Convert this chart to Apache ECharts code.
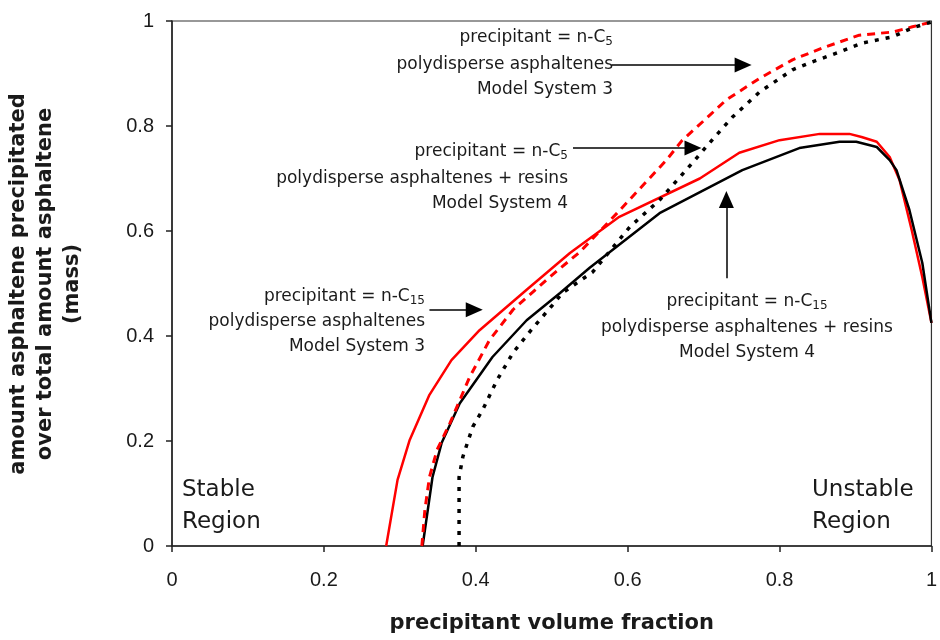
<!DOCTYPE html>
<html>
<head>
<meta charset="utf-8">
<script src="https://cdn.jsdelivr.net/npm/echarts@6/dist/echarts.min.js"></script>
<style>
  html, body { margin: 0; padding: 0; background: #fff; }
  #chart { width: 940px; height: 640px; }
</style>
</head>
<body>
<div id="chart"></div>
<script>
// Fraction of asphaltene precipitated vs precipitant volume fraction, [x, y] pairs

// n-C15, polydisperse asphaltenes (Model System 3)
const c15System3 = [
  [0.282, 0], [0.297, 0.126], [0.313, 0.202], [0.339, 0.288], [0.368, 0.354],
  [0.405, 0.411], [0.467, 0.488], [0.524, 0.558], [0.589, 0.627], [0.695, 0.700],
  [0.747, 0.749], [0.800, 0.773], [0.853, 0.785], [0.892, 0.785], [0.908, 0.779],
  [0.928, 0.770], [0.945, 0.741], [0.958, 0.697], [0.974, 0.602], [0.988, 0.512],
  [1.0, 0.425]
];

// n-C15, polydisperse asphaltenes + resins (Model System 4)
const c15System4 = [
  [0.330, 0], [0.343, 0.131], [0.355, 0.196], [0.379, 0.272], [0.422, 0.360],
  [0.467, 0.430], [0.511, 0.482], [0.550, 0.530], [0.642, 0.634], [0.751, 0.716],
  [0.826, 0.758], [0.879, 0.770], [0.901, 0.770], [0.928, 0.760], [0.945, 0.735],
  [0.954, 0.716], [0.971, 0.640], [0.988, 0.539], [1.0, 0.425]
];

// n-C5, polydisperse asphaltenes (Model System 3)
const c5System3 = [
  [0.329, 0], [0.333, 0.069], [0.339, 0.131], [0.349, 0.183], [0.366, 0.234],
  [0.392, 0.322], [0.418, 0.392], [0.449, 0.450], [0.497, 0.512], [0.537, 0.560],
  [0.586, 0.634], [0.651, 0.735], [0.672, 0.773], [0.704, 0.815], [0.730, 0.850],
  [0.774, 0.891], [0.817, 0.926], [0.857, 0.949], [0.905, 0.973], [0.949, 0.979],
  [0.975, 0.989], [1.0, 0.998]
];

// n-C5, polydisperse asphaltenes + resins (Model System 4)
const c5System4 = [
  [0.378, 0], [0.378, 0.131], [0.383, 0.170], [0.396, 0.227], [0.409, 0.259],
  [0.428, 0.316], [0.449, 0.368], [0.471, 0.408], [0.501, 0.459], [0.514, 0.482],
  [0.554, 0.522], [0.603, 0.608], [0.642, 0.659], [0.686, 0.731], [0.708, 0.768],
  [0.738, 0.817], [0.774, 0.865], [0.817, 0.907], [0.839, 0.920], [0.879, 0.941],
  [0.909, 0.958], [0.949, 0.970], [0.975, 0.987], [1.0, 0.998]
];

// Axis ticks
const xTickStep = 0.2;
const yTickStep = 0.2;

// Callout arrows: tail point, arrow-head centre (data coordinates)
const calloutArrows = [
  [[0.579, 0.916], [0.752, 0.916]],
  [[0.528, 0.758], [0.686, 0.758]],
  [[0.339, 0.450], [0.398, 0.450]],
  [[0.730, 0.510], [0.730, 0.660]]
];

const FONT = 'DejaVu Sans';
const TICK_FONT = 'Liberation Sans, Arial, sans-serif';
const INK = '#1a1a1a';

const chart = echarts.init(document.getElementById('chart'), null, { renderer: 'canvas' });

function noteLine(x, y, text, align) {
  return {
    type: 'text',
    x: x,
    y: y,
    silent: true,
    style: {
      text: text,
      align: align,
      verticalAlign: 'middle',
      fontSize: 17,
      fontFamily: FONT,
      fill: INK,
      lineHeight: 20,
      rich: {
        sub: {
          fontSize: 12,
          fontFamily: FONT,
          fill: INK,
          lineHeight: 12,
          verticalAlign: 'bottom'
        }
      }
    }
  };
}

function regionLabel(x, text) {
  return {
    type: 'text',
    x: x,
    y: 506,
    silent: true,
    style: {
      text: text,
      align: 'left',
      verticalAlign: 'middle',
      fontSize: 23,
      fontFamily: FONT,
      fill: INK,
      lineHeight: 32
    }
  };
}

const option = {
  animation: false,
  backgroundColor: '#ffffff',
  grid: {
    left: 172,
    right: 8,
    top: 21,
    bottom: 94,
    show: true,
    borderColor: '#333',
    borderWidth: 1.2,
    backgroundColor: 'transparent'
  },
  xAxis: {
    type: 'value',
    min: 0,
    max: 1,
    interval: xTickStep,
    name: 'precipitant volume fraction',
    nameLocation: 'middle',
    nameGap: 67,
    nameTextStyle: { fontSize: 21, fontWeight: 'bold', fontFamily: FONT, color: INK },
    axisLine: { show: true, onZero: false, lineStyle: { color: '#222', width: 1.5 } },
    axisTick: { show: true, inside: false, length: 6, lineStyle: { color: '#222', width: 1.5 } },
    axisLabel: { fontSize: 20, fontFamily: TICK_FONT, color: INK, margin: 24 },
    splitLine: { show: false }
  },
  yAxis: {
    type: 'value',
    min: 0,
    max: 1,
    interval: yTickStep,
    axisLine: { show: true, onZero: false, lineStyle: { color: '#222', width: 1.5 } },
    axisTick: { show: true, inside: false, length: 6, lineStyle: { color: '#222', width: 1.5 } },
    axisLabel: { fontSize: 20, fontFamily: TICK_FONT, color: INK, margin: 18 },
    splitLine: { show: false }
  },
  series: [
    {
      name: 'n-C15 MS3',
      type: 'line',
      data: c15System3,
      showSymbol: false,
      silent: true,
      lineStyle: { color: '#ff0000', width: 2.5 },
      z: 3,
      markLine: {
        silent: true,
        symbol: ['none', 'triangle'],
        symbolSize: [15, 17],
        label: { show: false },
        lineStyle: { color: '#000', width: 1.5, type: 'solid' },
        data: calloutArrows.map(a => [{ coord: a[0] }, { coord: a[1] }])
      }
    },
    {
      name: 'n-C15 MS4',
      type: 'line',
      data: c15System4,
      showSymbol: false,
      silent: true,
      lineStyle: { color: '#000000', width: 2.5 },
      z: 3
    },
    {
      name: 'n-C5 MS3',
      type: 'line',
      data: c5System3,
      showSymbol: false,
      silent: true,
      lineStyle: { color: '#ff0000', width: 3, type: [8, 6] },
      z: 4
    },
    {
      name: 'n-C5 MS4',
      type: 'line',
      data: c5System4,
      showSymbol: false,
      silent: true,
      lineStyle: { color: '#000000', width: 3.5, type: [4, 7] },
      z: 4
    }
  ],
  graphic: [
    // y-axis title
    {
      type: 'text',
      x: 46,
      y: 284,
      rotation: Math.PI / 2,
      silent: true,
      style: {
        text: 'amount asphaltene precipitated\nover total amount asphaltene\n(mass)',
        align: 'center',
        verticalAlign: 'middle',
        fontSize: 21,
        fontWeight: 'bold',
        fontFamily: FONT,
        fill: INK,
        lineHeight: 27
      }
    },
    // n-C5, Model System 3
    noteLine(613, 38, 'precipitant = n-C{sub|5}', 'right'),
    noteLine(613, 65, 'polydisperse asphaltenes', 'right'),
    noteLine(613, 90, 'Model System 3', 'right'),
    // n-C5, Model System 4
    noteLine(568, 152, 'precipitant = n-C{sub|5}', 'right'),
    noteLine(568, 179, 'polydisperse asphaltenes + resins', 'right'),
    noteLine(568, 204, 'Model System 4', 'right'),
    // n-C15, Model System 3
    noteLine(425, 297, 'precipitant = n-C{sub|15}', 'right'),
    noteLine(425, 322, 'polydisperse asphaltenes', 'right'),
    noteLine(425, 347, 'Model System 3', 'right'),
    // n-C15, Model System 4
    noteLine(747, 302, 'precipitant = n-C{sub|15}', 'center'),
    noteLine(747, 328, 'polydisperse asphaltenes + resins', 'center'),
    noteLine(747, 353, 'Model System 4', 'center'),
    // regions
    regionLabel(182, 'Stable\nRegion'),
    regionLabel(812, 'Unstable\nRegion')
  ]
};

chart.setOption(option);
</script>
</body>
</html>
